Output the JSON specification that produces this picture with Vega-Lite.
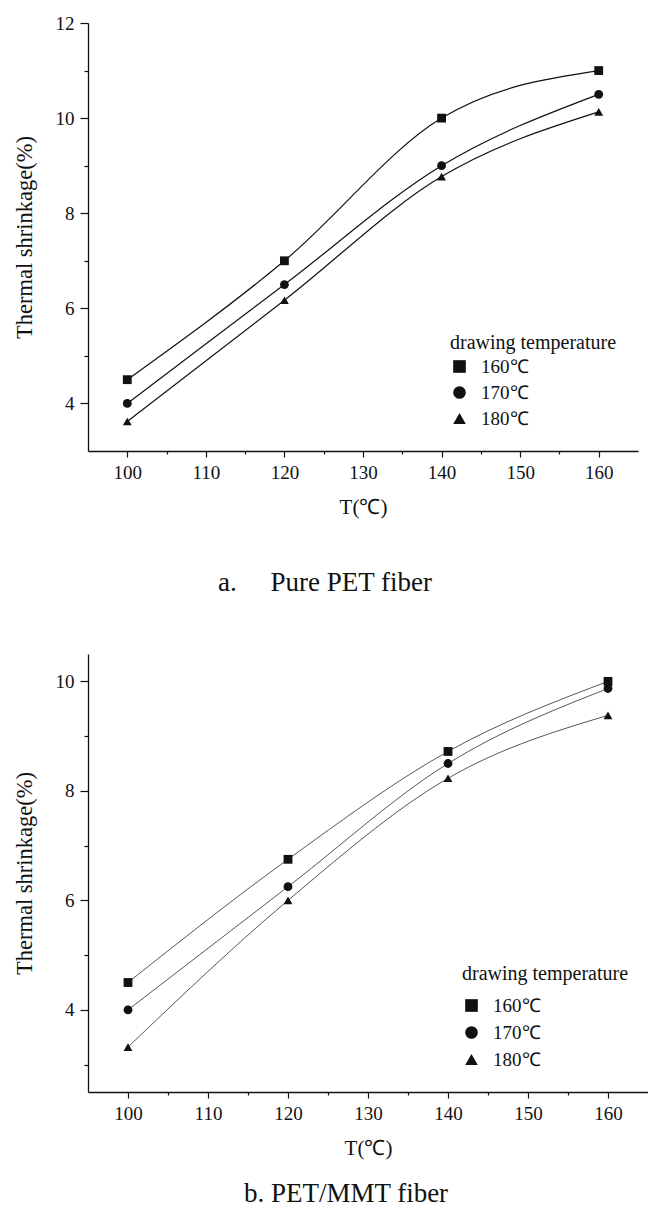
{
  "$schema": "https://vega.github.io/schema/vega-lite/v6.json",
  "padding": {"left": 13, "top": 14, "right": 0, "bottom": 0},
  "spacing": 58,
  "resolve": {"scale": {"shape": "independent"}, "legend": {"shape": "independent"}},
  "config": {
    "font": "Liberation Serif",
    "view": {"stroke": null},
    "axis": {"grid": false, "domainColor": "#111", "domainWidth": 1.3, "tickColor": "#111", "tickWidth": 1.2, "labelFont": "Liberation Serif", "labelFontSize": 19, "labelColor": "#111", "titleFont": "Liberation Serif", "titleFontWeight": "normal", "titleColor": "#111", "labelFlush": false},
    "legend": {"padding": 0, "titleFont": "Liberation Serif", "titleFontSize": 20, "titleFontWeight": "normal", "titleColor": "#111", "titlePadding": 4, "labelFont": "Liberation Serif", "labelFontSize": 19, "labelColor": "#111", "symbolSize": 160, "symbolFillColor": "#111", "symbolStrokeWidth": 0, "rowPadding": 6, "labelOffset": 12},
    "title": {"font": "Liberation Serif", "fontWeight": "normal", "fontSize": 27, "color": "#111"}
  },
  "datasets": {
    "pure": [
      {"T": 100, "S": 4.5, "dt": "160℃"}, {"T": 120, "S": 7.0, "dt": "160℃"}, {"T": 140, "S": 10.0, "dt": "160℃"}, {"T": 160, "S": 11.0, "dt": "160℃"},
      {"T": 100, "S": 4.0, "dt": "170℃"}, {"T": 120, "S": 6.5, "dt": "170℃"}, {"T": 140, "S": 9.0, "dt": "170℃"}, {"T": 160, "S": 10.5, "dt": "170℃"},
      {"T": 100, "S": 3.62, "dt": "180℃"}, {"T": 120, "S": 6.17, "dt": "180℃"}, {"T": 140, "S": 8.77, "dt": "180℃"}, {"T": 160, "S": 10.13, "dt": "180℃"}
    ],
    "mmt": [
      {"T": 100, "S": 4.5, "dt": "160℃"}, {"T": 120, "S": 6.75, "dt": "160℃"}, {"T": 140, "S": 8.72, "dt": "160℃"}, {"T": 160, "S": 10.0, "dt": "160℃"},
      {"T": 100, "S": 4.0, "dt": "170℃"}, {"T": 120, "S": 6.25, "dt": "170℃"}, {"T": 140, "S": 8.5, "dt": "170℃"}, {"T": 160, "S": 9.87, "dt": "170℃"},
      {"T": 100, "S": 3.32, "dt": "180℃"}, {"T": 120, "S": 6.0, "dt": "180℃"}, {"T": 140, "S": 8.23, "dt": "180℃"}, {"T": 160, "S": 9.38, "dt": "180℃"}
    ]
  },
  "vconcat": [
    {
      "width": 550, "height": 428,
      "title": {"text": "a.\u00a0\u00a0\u00a0\u00a0\u00a0Pure PET fiber", "orient": "bottom", "offset": 53, "dx": -38, "anchor": "middle"},
      "data": {"name": "pure"},
      "layer": [
        {
          "mark": {"type": "line", "interpolate": "monotone", "color": "#111", "strokeWidth": 1.2},
          "encoding": {
            "x": {"field": "T", "type": "quantitative", "scale": {"domain": [95, 165], "nice": false, "zero": false}, "axis": {"values": [100, 110, 120, 130, 140, 150, 160], "title": "T(℃)", "tickSize": 6, "labelPadding": 6, "titlePadding": 14, "titleFontSize": 21}},
            "y": {"field": "S", "type": "quantitative", "scale": {"domain": [3, 12], "nice": false, "zero": false}, "axis": {"values": [4, 6, 8, 10, 12], "title": "Thermal shrinkage(%)", "tickSize": 8, "labelPadding": 6, "titlePadding": 19, "titleFontSize": 22.5}},
            "detail": {"field": "dt", "type": "nominal"}
          }
        },
        {
          "mark": {"type": "point", "filled": true, "color": "#111", "opacity": 1, "size": 78},
          "encoding": {
            "x": {"field": "T", "type": "quantitative", "axis": {"orient": "bottom", "values": [105, 115, 125, 135, 145, 155], "labels": false, "domain": false, "title": null, "tickSize": 3}},
            "y": {"field": "S", "type": "quantitative", "axis": {"orient": "left", "values": [5, 7, 9, 11], "labels": false, "domain": false, "title": null, "tickSize": 4}},
            "shape": {"field": "dt", "type": "nominal", "scale": {"domain": ["160℃", "170℃", "180℃"], "range": ["square", "circle", "triangle-up"]}, "legend": {"title": "drawing temperature", "orient": "none", "legendX": 362, "legendY": 310, "symbolSize": 160, "rowPadding": 6}}
          }
        }
      ],
      "resolve": {"axis": {"x": "independent", "y": "independent"}}
    },
    {
      "width": 560, "height": 438,
      "title": {"text": "b. PET/MMT fiber", "orient": "bottom", "offset": 23, "dx": -22, "anchor": "middle"},
      "data": {"name": "mmt"},
      "layer": [
        {
          "mark": {"type": "line", "interpolate": "monotone", "color": "#444", "strokeWidth": 0.9},
          "encoding": {
            "x": {"field": "T", "type": "quantitative", "scale": {"domain": [95, 165], "nice": false, "zero": false}, "axis": {"values": [100, 110, 120, 130, 140, 150, 160], "title": "T(℃)", "tickSize": 6, "labelPadding": 6, "titlePadding": 14, "titleFontSize": 21}},
            "y": {"field": "S", "type": "quantitative", "scale": {"domain": [2.5, 10.5], "nice": false, "zero": false}, "axis": {"values": [4, 6, 8, 10], "title": "Thermal shrinkage(%)", "tickSize": 8, "labelPadding": 6, "titlePadding": 19, "titleFontSize": 22.5}},
            "detail": {"field": "dt", "type": "nominal"}
          }
        },
        {
          "mark": {"type": "point", "filled": true, "color": "#111", "opacity": 1, "size": 78},
          "encoding": {
            "x": {"field": "T", "type": "quantitative", "axis": {"orient": "bottom", "values": [105, 115, 125, 135, 145, 155], "labels": false, "domain": false, "title": null, "tickSize": 3}},
            "y": {"field": "S", "type": "quantitative", "axis": {"orient": "left", "values": [3, 5, 7, 9], "labels": false, "domain": false, "title": null, "tickSize": 4}},
            "shape": {"field": "dt", "type": "nominal", "scale": {"domain": ["160℃", "170℃", "180℃"], "range": ["square", "circle", "triangle-up"]}, "legend": {"title": "drawing temperature", "orient": "none", "legendX": 374, "legendY": 310, "symbolSize": 160, "titlePadding": 12, "rowPadding": 7}}
          }
        }
      ],
      "resolve": {"axis": {"x": "independent", "y": "independent"}}
    }
  ]
}
